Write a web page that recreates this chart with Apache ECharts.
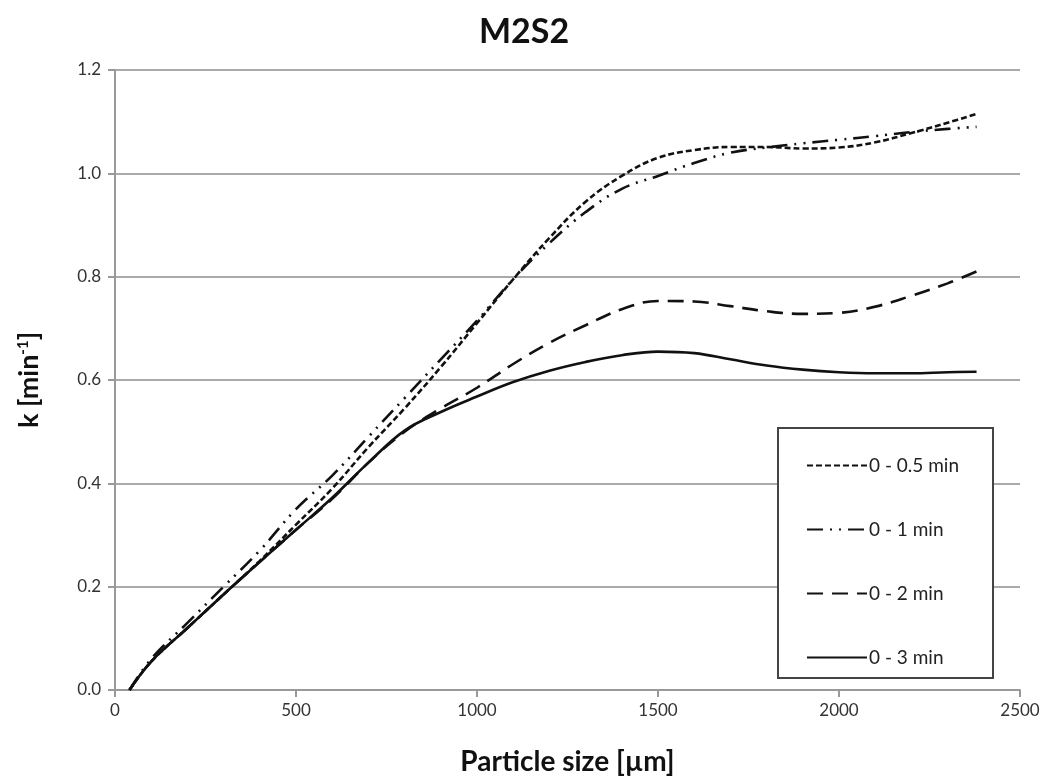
<!DOCTYPE html>
<html>
<head>
<meta charset="utf-8">
<script src="https://cdn.jsdelivr.net/npm/echarts@6/dist/echarts.min.js"></script>
<style>html,body{margin:0;padding:0;background:#fff}#c{width:1048px;height:781px}</style>
</head>
<body>
<div id="c"></div>
<script>
const sizes = [40, 100, 200, 300, 400, 500, 600, 700, 800, 900, 1000, 1100, 1200, 1300, 1400, 1500, 1600, 1700, 1800, 1900, 2000, 2100, 2200, 2300, 2380];
const k05 = [0, 0.055, 0.12, 0.185, 0.25, 0.32, 0.39, 0.47, 0.545, 0.625, 0.71, 0.795, 0.875, 0.945, 0.995, 1.03, 1.045, 1.051, 1.051, 1.048, 1.05, 1.06, 1.078, 1.098, 1.115];
const k1 = [0, 0.06, 0.13, 0.2, 0.27, 0.35, 0.415, 0.49, 0.565, 0.64, 0.715, 0.795, 0.865, 0.925, 0.97, 0.995, 1.02, 1.04, 1.05, 1.058, 1.065, 1.072, 1.08, 1.086, 1.09];
const k2 = [0, 0.055, 0.12, 0.185, 0.248, 0.31, 0.37, 0.44, 0.50, 0.545, 0.585, 0.631, 0.672, 0.706, 0.737, 0.753, 0.752, 0.743, 0.733, 0.728, 0.730, 0.742, 0.763, 0.787, 0.81];
const k3 = [0, 0.055, 0.12, 0.185, 0.248, 0.31, 0.372, 0.44, 0.502, 0.538, 0.568, 0.596, 0.618, 0.635, 0.648, 0.655, 0.652, 0.640, 0.628, 0.620, 0.615, 0.613, 0.613, 0.615, 0.616];
const seriesNames = ['0 - 0.5 min', '0 - 1 min', '0 - 2 min', '0 - 3 min'];
const xTicks = [0, 500, 1000, 1500, 2000, 2500];
const yTicks = [0, 0.2, 0.4, 0.6, 0.8, 1.0, 1.2];

const FONT = 'Lato, "Open Sans", sans-serif';
const dashTypes = [[6, 3], [16, 7, 2, 7, 2, 7], [16, 9], 'solid'];
const allData = [k05, k1, k2, k3];

const chart = echarts.init(document.getElementById('c'), null, {renderer: 'canvas'});
chart.setOption({
  backgroundColor: '#fff',
  animation: false,
  title: {
    text: 'M2S2', left: 'center', top: 10,
    textStyle: {fontFamily: FONT, fontWeight: 'bold', fontSize: 34, color: '#111'}
  },
  grid: {left: 115, right: 28, top: 70, bottom: 89},
  graphic: [{
    type: 'rect', z: 3,
    shape: {x: 778, y: 428, width: 215, height: 250},
    style: {fill: '#fff', stroke: '#444', lineWidth: 2}
  }],
  legend: {
    orient: 'vertical', left: 801, top: 451, z: 5,
    itemWidth: 60, itemHeight: 18, itemGap: 45,
    data: seriesNames,
    itemStyle: {opacity: 0},
    textStyle: {fontFamily: FONT, fontSize: 19, color: '#222', padding: [0, 0, 0, -3]}
  },
  xAxis: {
    type: 'value', min: xTicks[0], max: xTicks[xTicks.length - 1], interval: 500,
    name: 'Particle size [\u00b5m]', nameLocation: 'middle', nameGap: 58,
    nameTextStyle: {fontFamily: FONT, fontWeight: 'bold', fontSize: 28, color: '#111'},
    axisLine: {lineStyle: {color: '#999', width: 2}},
    axisTick: {show: true, length: 7, lineStyle: {color: '#999', width: 2}},
    axisLabel: {fontFamily: FONT, fontSize: 17, color: '#333', margin: 12, formatter: v => String(v)},
    splitLine: {show: false}
  },
  yAxis: {
    type: 'value', min: yTicks[0], max: yTicks[yTicks.length - 1], interval: 0.2,
    name: '{a|k [min}{b|-1}{a|]}', nameLocation: 'middle', nameGap: 72, nameRotate: 90,
    nameTextStyle: {
      rich: {
        a: {fontFamily: FONT, fontWeight: 'bold', fontSize: 27, color: '#111'},
        b: {fontFamily: FONT, fontWeight: 'bold', fontSize: 15, color: '#111', verticalAlign: 'top', padding: [0, 0, 12, 0]}
      }
    },
    axisLine: {show: true, lineStyle: {color: '#999', width: 2}},
    axisTick: {show: true, length: 7, lineStyle: {color: '#999', width: 2}},
    axisLabel: {fontFamily: FONT, fontSize: 17, color: '#333', margin: 14, formatter: v => v.toFixed(1)},
    splitLine: {show: true, lineStyle: {color: '#aaa', width: 2}}
  },
  series: allData.map((d, i) => ({
    name: seriesNames[i], type: 'line', smooth: 0.4, showSymbol: false, symbol: 'none',
    data: sizes.map((x, j) => [x, d[j]]),
    lineStyle: {color: '#111', width: 2.6, type: dashTypes[i]},
    itemStyle: {color: '#111'}
  }))
});
</script>
</body>
</html>
